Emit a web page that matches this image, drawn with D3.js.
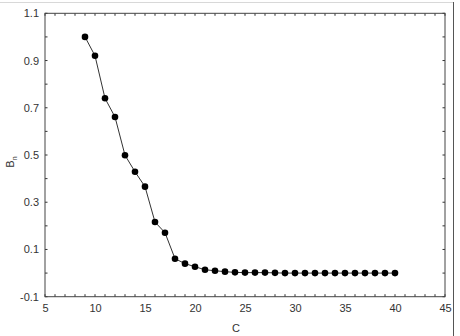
<!DOCTYPE html>
<html><head><meta charset="utf-8">
<script src="https://cdn.jsdelivr.net/npm/d3@7"></script>
<style>
html,body{margin:0;padding:0;background:#fff;}
svg{display:block;font-family:"Liberation Sans",Arial,sans-serif;}
</style></head>
<body>
<svg id="c" width="460" height="336"></svg>
<script>
const cValues = [9,10,11,12,13,14,15,16,17,18,19,20,21,22,23,24,25,26,27,28,29,30,31,32,33,34,35,36,37,38,39,40];
const bnValues = [1.0,0.92,0.74,0.661,0.499,0.429,0.366,0.216,0.171,0.061,0.04,0.027,0.014,0.01,0.006,0.003,0.002,0.002,0.002,0.001,0,0,0,0,0,0,0,0,0,0,0,0];
const xTicks = [5,10,15,20,25,30,35,40,45];
const yTicks = [-0.1,0.1,0.3,0.5,0.7,0.9,1.1];
const xMinor = d3.range(5,45.01,1);
const yMinor = d3.range(-0.1,1.101,0.1);

const svg = d3.select("#c");
const L=45,R=445,T=13.3,B=296.7;
const x = d3.scaleLinear().domain([5,45]).range([L,R]);
const y = d3.scaleLinear().domain([-0.1,1.1]).range([B,T]);

// outer frame fragments
svg.append("line").attr("x1",0).attr("x2",453).attr("y1",2.5).attr("y2",2.5).attr("stroke","#d8d8d8").attr("stroke-width",1);
svg.append("line").attr("x1",453.5).attr("x2",453.5).attr("y1",2).attr("y2",336).attr("stroke","#555").attr("stroke-width",1);

const g = svg.append("g");
// minor ticks inside
const tk = 2.5;
g.selectAll(".tb").data(xMinor).join("line").attr("x1",d=>x(d)).attr("x2",d=>x(d)).attr("y1",B).attr("y2",B-tk).attr("stroke","#333");
g.selectAll(".tt").data(xMinor).join("line").attr("x1",d=>x(d)).attr("x2",d=>x(d)).attr("y1",T).attr("y2",T+tk).attr("stroke","#333");
g.selectAll(".tl").data(yMinor).join("line").attr("x1",L).attr("x2",L+tk).attr("y1",d=>y(d)).attr("y2",d=>y(d)).attr("stroke","#333");
g.selectAll(".tr").data(yMinor).join("line").attr("x1",R).attr("x2",R-tk).attr("y1",d=>y(d)).attr("y2",d=>y(d)).attr("stroke","#333");
// box
g.append("rect").attr("x",L).attr("y",T).attr("width",R-L).attr("height",B-T).attr("fill","none").attr("stroke","#444").attr("stroke-width",1);

// axes labels via d3 axes (no lines)
const xa = svg.append("g").attr("transform",`translate(0,${B})`).call(d3.axisBottom(x).tickValues(xTicks).tickSize(0).tickPadding(8).tickFormat(d3.format("d")));
const ya = svg.append("g").attr("transform",`translate(${L},0)`).call(d3.axisLeft(y).tickValues(yTicks).tickSize(0).tickPadding(6).tickFormat(d=>d3.format(".1f")(d).replace("−","-")));
[xa,ya].forEach(a=>{a.select(".domain").remove();a.selectAll("text").attr("font-size",11).attr("fill","#333").attr("font-family","Liberation Sans, Arial, sans-serif");});

// titles
svg.append("text").attr("x",236).attr("y",332).attr("text-anchor","middle").attr("font-size",11).attr("fill","#333").text("C");
const yt = svg.append("text").attr("transform","translate(14,162) rotate(-90)").attr("text-anchor","middle").attr("font-size",11).attr("fill","#333");
yt.append("tspan").text("B");
yt.append("tspan").attr("font-size",7).attr("dy",3).text("n");

// data
const data = cValues.map((c,i)=>({c,v:bnValues[i]}));
svg.append("path").datum(data).attr("fill","none").attr("stroke","#333").attr("stroke-width",1)
  .attr("d",d3.line().x(d=>x(d.c)).y(d=>y(d.v)));
svg.selectAll(".pt").data(data).join("circle").attr("cx",d=>x(d.c)).attr("cy",d=>y(d.v)).attr("r",3.3).attr("fill","#000");
</script>
</body></html>
